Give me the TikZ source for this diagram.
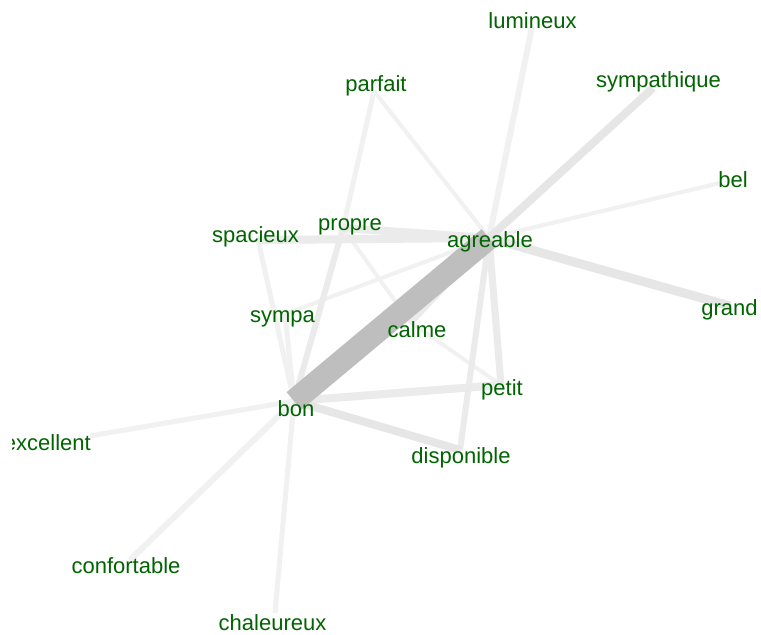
\documentclass[tikz,border=0pt]{standalone}
\usepackage{fontspec}
\setmainfont{Liberation Sans}
\definecolor{labelgreen}{HTML}{006400}
\definecolor{ethick}{HTML}{BEBEBE}
\definecolor{emid}{HTML}{E6E6E6}
\definecolor{elight}{HTML}{EBEBEB}
\definecolor{efaint}{HTML}{F1F1F1}
\begin{document}
\begin{tikzpicture}[x=1pt,y=-1pt,
  lbl/.style={text=labelgreen,font=\fontsize{22}{26}\selectfont,inner sep=0pt,anchor=base},
  faintedge/.style={draw=efaint,line width=#1pt},
  lightedge/.style={draw=elight,line width=#1pt},
  midedge/.style={draw=emid,line width=#1pt},
  thickedge/.style={draw=ethick,line width=23pt}]
\useasboundingbox[fill=white] (0,0) rectangle (761,635);
% node points
\coordinate (agreable) at (489,238);
\coordinate (bon) at (294,401);
\coordinate (sympathique) at (653,88);
\coordinate (lumineux) at (532,27);
\coordinate (parfait) at (374,91);
\coordinate (bel) at (720,183);
\coordinate (grand) at (730,306);
\coordinate (petit) at (501,385);
\coordinate (disponible) at (460,450);
\coordinate (calme) at (410,322);
\coordinate (propre) at (343,228);
\coordinate (spacieux) at (258,240);
\coordinate (sympa) at (285,314);
\coordinate (excellent) at (90,436);
\coordinate (confortable) at (130,560);
\coordinate (chaleureux) at (275,613);
% faint edges
\draw[faintedge=4] (agreable) -- (bel);
\draw[faintedge=4] (agreable) -- (parfait);
\draw[faintedge=4] (agreable) -- (sympa);
\draw[faintedge=5] (parfait) -- (propre);
\draw[faintedge=4] (propre) -- (calme);
\draw[faintedge=4] (calme) -- (petit);
\draw[faintedge=5] (bon) -- (excellent);
\draw[faintedge=6] (bon) -- (confortable);
\draw[faintedge=5] (bon) -- (chaleureux);
\draw[faintedge=5] (bon) -- (spacieux);
\draw[faintedge=5] (bon) -- (sympa);
\draw[faintedge=6] (agreable) -- (lumineux);
\draw[lightedge=6] (bon) -- (propre);
\draw[lightedge=6] (agreable) -- (disponible);
\draw[lightedge=7] (agreable) -- (petit);
\draw[lightedge=8] (agreable) -- (spacieux);
\draw[lightedge=8] (agreable) -- (propre);
\draw[lightedge=8] (agreable) -- (calme);
\draw[lightedge=8] (bon) -- (petit);
\draw[midedge=8] (bon) -- (disponible);
\draw[midedge=8] (agreable) -- (sympathique);
\draw[midedge=9] (agreable) -- (grand);
\draw[thickedge] (bon) -- (agreable);
% labels
\node[lbl] (l-lumineux) at (532.5,28) {lumineux};
\node[lbl] (l-parfait) at (376,91) {parfait};
\node[lbl] (l-sympathique) at (658.5,87.5) {sympathique};
\node[lbl] (l-bel) at (733,187.5) {bel};
\node[lbl] (l-propre) at (350,230) {propre};
\node[lbl] (l-spacieux) at (255.5,242.5) {spacieux};
\node[lbl] (l-agreable) at (490,247) {agreable};
\node[lbl] (l-grand) at (729.5,315) {grand};
\node[lbl] (l-sympa) at (282.5,322.5) {sympa};
\node[lbl] (l-calme) at (417,337.5) {calme};
\node[lbl] (l-petit) at (502,395) {petit};
\node[lbl] (l-bon) at (296,416.5) {bon};
\node[lbl] (l-disponible) at (461,463.5) {disponible};
\begin{scope}
\clip (12.5,400) rectangle (200,470);
\node[lbl,anchor=base east] (l-excellent) at (91,450.5) {excellent};
\end{scope}
\node[lbl] (l-confortable) at (126,573.5) {confortable};
\node[lbl] (l-chaleureux) at (272.5,630) {chaleureux};
\end{tikzpicture}
\end{document}
